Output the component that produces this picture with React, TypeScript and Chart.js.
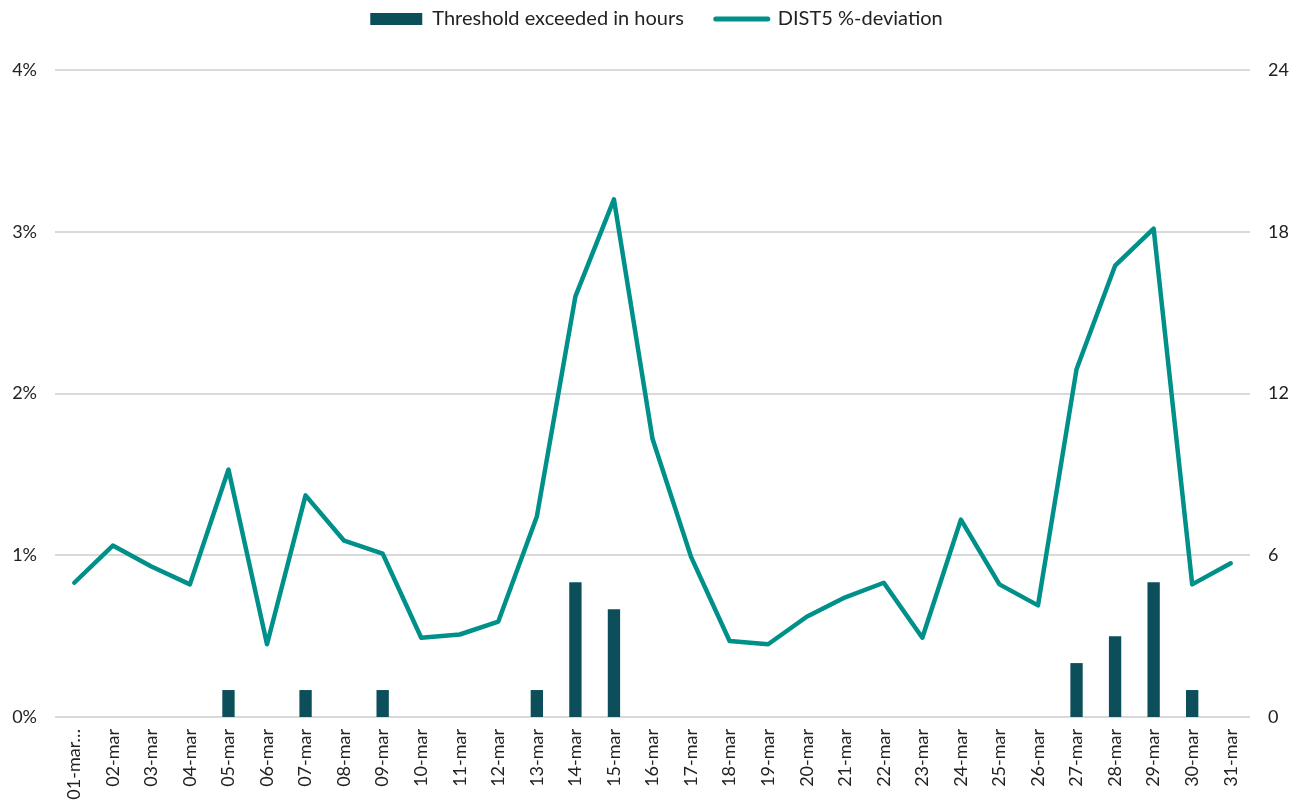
import React, { useEffect, useRef } from "react";
import { Chart, registerables } from "chart.js";

Chart.register(...registerables);

const categories = [
  "01-mar…", "02-mar", "03-mar", "04-mar", "05-mar", "06-mar", "07-mar", "08-mar",
  "09-mar", "10-mar", "11-mar", "12-mar", "13-mar", "14-mar", "15-mar", "16-mar",
  "17-mar", "18-mar", "19-mar", "20-mar", "21-mar", "22-mar", "23-mar", "24-mar",
  "25-mar", "26-mar", "27-mar", "28-mar", "29-mar", "30-mar", "31-mar",
];

const thresholdHours = [
  0, 0, 0, 0, 1, 0, 1, 0, 1, 0, 0, 0, 1, 5, 4, 0,
  0, 0, 0, 0, 0, 0, 0, 0, 0, 0, 2, 3, 5, 1, 0,
];

const dist5Deviation = [
  0.83, 1.06, 0.93, 0.82, 1.53, 0.45, 1.37, 1.09, 1.01, 0.49, 0.51, 0.59, 1.24, 2.6, 3.2, 1.72,
  0.99, 0.47, 0.45, 0.62, 0.74, 0.83, 0.49, 1.22, 0.82, 0.69, 2.15, 2.79, 3.02, 0.82, 0.95,
];

const leftTicks = [0, 1, 2, 3, 4];
const rightTicks = [0, 6, 12, 18, 24];

const BAR_COLOR = "#0C4F5B";
const LINE_COLOR = "#00908A";
const FONT = "Lato, 'Noto Sans', sans-serif";

const LEGEND_PAD = 32;

const legendSpacer = {
  id: "legendSpacer",
  beforeInit(chart: any) {
    const orig = chart.legend.fit;
    chart.legend.fit = function () {
      orig.call(this);
      this.height += 31;
    };
  },
};

export default function App() {
  const ref = useRef<HTMLCanvasElement | null>(null);

  useEffect(() => {
    document.body.style.margin = "0";
    if (!ref.current) return;
    const chart = new Chart(ref.current, {
      type: "bar",
      plugins: [legendSpacer],
      data: {
        labels: categories,
        datasets: [
          {
            type: "line",
            label: "DIST5 %-deviation",
            data: dist5Deviation,
            borderColor: LINE_COLOR,
            backgroundColor: LINE_COLOR,
            borderWidth: 4.5,
            pointRadius: 0,
            tension: 0,
            yAxisID: "y",
            borderJoinStyle: "round",
            borderCapStyle: "round",
            order: 1,
          },
          {
            type: "bar",
            label: "Threshold exceeded in hours",
            data: thresholdHours,
            backgroundColor: BAR_COLOR,
            borderWidth: 0,
            yAxisID: "y1",
            barPercentage: 0.32,
            categoryPercentage: 1,
            order: 2,
          },
        ],
      },
      options: {
        animation: false,
        responsive: true,
        maintainAspectRatio: false,
        layout: { padding: { top: -(LEGEND_PAD - 9), left: 0, right: 0, bottom: 0 } },
        plugins: {
          tooltip: { enabled: false },
          legend: {
            position: "top",
            labels: {
              font: { family: FONT, size: 20 },
              color: "#222",
              usePointStyle: true,
              pointStyleWidth: 52,
              boxHeight: 12,
              padding: LEGEND_PAD,
              sort: (a: any, b: any) => b.datasetIndex - a.datasetIndex,
              generateLabels: (c: any) =>
                c.data.datasets.map((ds: any, i: number) =>
                  ds.type === "line"
                    ? {
                        text: ds.label,
                        datasetIndex: i,
                        pointStyle: "line",
                        strokeStyle: LINE_COLOR,
                        fillStyle: LINE_COLOR,
                        lineWidth: 5,
                        lineCap: "round",
                        fontColor: "#222",
                      }
                    : {
                        text: ds.label,
                        datasetIndex: i,
                        pointStyle: "rect",
                        strokeStyle: BAR_COLOR,
                        fillStyle: BAR_COLOR,
                        lineWidth: 0,
                        fontColor: "#222",
                      }
                ),
            },
          },
        },
        scales: {
          x: {
            offset: true,
            grid: { display: false },
            border: { display: false },
            ticks: {
              font: { family: FONT, size: 18 },
              color: "#222",
              minRotation: 90,
              maxRotation: 90,
              autoSkip: false,
              padding: 4,
            },
            afterFit: (s: any) => {
              s.height = 83;
            },
          },
          y: {
            position: "left",
            min: 0,
            max: 4,
            afterBuildTicks: (s: any) => {
              s.ticks = leftTicks.map((v) => ({ value: v }));
            },
            ticks: {
              font: { family: FONT, size: 18 },
              color: "#222",
              padding: 18,
              callback: (v: any) => v + "%",
            },
            grid: { color: "#D9D9D9", lineWidth: 2, drawTicks: false },
            border: { display: false },
            afterFit: (s: any) => {
              s.width = 55;
            },
          },
          y1: {
            position: "right",
            min: 0,
            max: 24,
            afterBuildTicks: (s: any) => {
              s.ticks = rightTicks.map((v) => ({ value: v }));
            },
            ticks: {
              font: { family: FONT, size: 18 },
              color: "#222",
              padding: 18,
            },
            grid: { display: false, drawTicks: false },
            border: { display: false },
            afterFit: (s: any) => {
              s.width = 63;
            },
          },
        },
      },
    });
    return () => chart.destroy();
  }, []);

  return (
    <div style={{ width: 1313, height: 800, position: "relative" }}>
      <canvas ref={ref} />
    </div>
  );
}
